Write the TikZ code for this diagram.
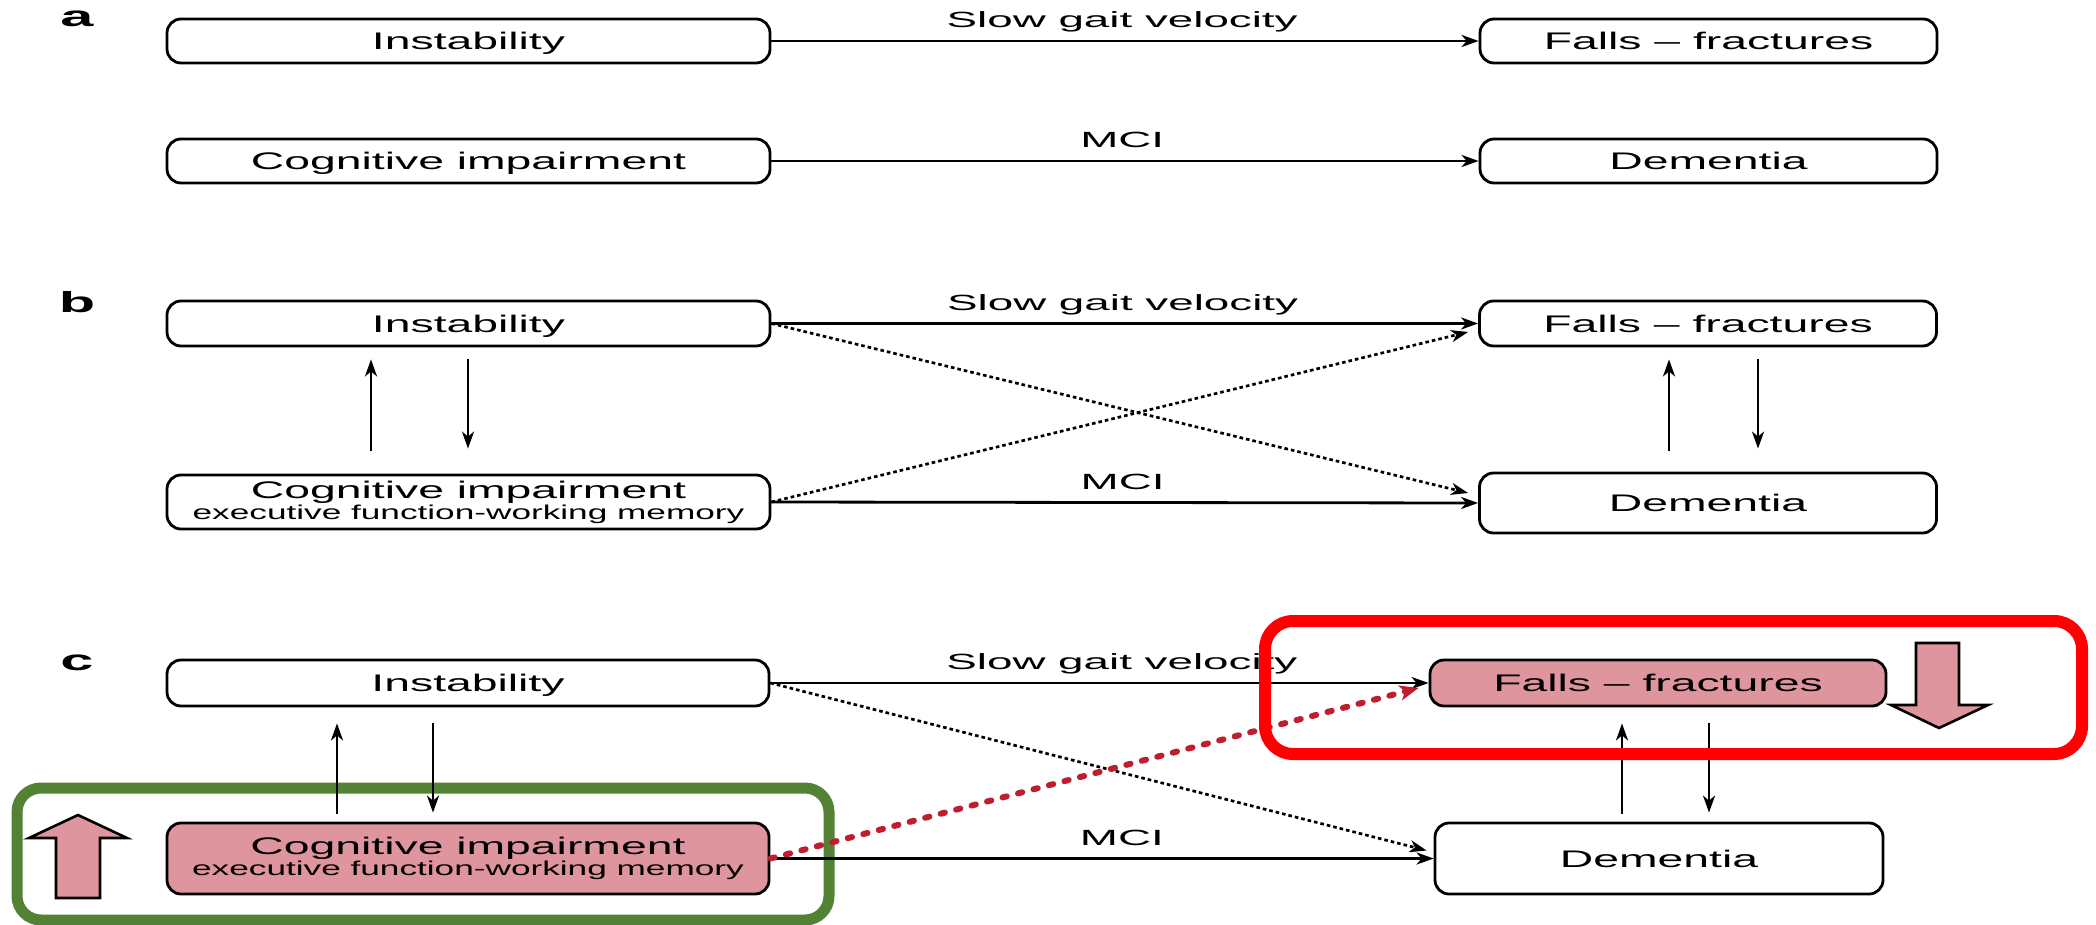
\documentclass[tikz,border=0pt]{standalone}
\usepackage{fontspec}
\setmainfont{Liberation Sans}
\usetikzlibrary{arrows.meta,calc}
\definecolor{pinkfill}{RGB}{223,149,157}
\definecolor{grn}{RGB}{84,130,53}
\definecolor{rdot}{RGB}{190,30,45}
\newcommand{\bxt}[1]{\scalebox{1.93}[1]{\fontsize{12}{14}\selectfont #1}}
\newcommand{\lbt}[1]{\scalebox{2.08}[1]{\fontsize{11}{13}\selectfont #1}}
\newcommand{\smt}[1]{\scalebox{1.76}[1]{\fontsize{10}{12}\selectfont #1}}
\newcommand{\plt}[1]{\scalebox{2.05}[1]{\fontsize{14.5}{16}\selectfont\bfseries #1}}
\tikzset{
  box/.style={draw, line width=1.4pt, rounded corners=7pt, inner sep=0pt,
    text height=8.6pt, text depth=0pt},
  wbox/.style={box, minimum width=301.5pt},
  nbox/.style={box, minimum width=228.5pt},
  twobox/.style={draw, line width=1.4pt, rounded corners=7pt, inner sep=0pt,
    align=center, font=\fontsize{10}{10.5}\selectfont, minimum width=301.5pt},
  arr/.style={line width=1.4pt, -{Stealth[length=8.5pt,width=6pt,inset=2.5pt]}},
  varr/.style={line width=1.25pt, -{Stealth[length=8.5pt,width=6pt,inset=2.5pt]}},
  dots/.style={line width=1.35pt, dash pattern=on 1.8pt off 1.5pt,
    -{Stealth[length=8.5pt,width=6pt,inset=2.5pt]}},
  rdots/.style={rdot, line width=3pt, dash pattern=on 2.2pt off 5.8pt, line cap=round,
    -{Stealth[length=9.5pt,width=7.5pt,inset=2.5pt]}},
  lab/.style={above=6pt, inner sep=0pt, text depth=0pt},
  bigarr/.style={fill=pinkfill, draw=black, line width=1.3pt},
  pl/.style={anchor=base, inner sep=0pt}
}
\begin{document}
\begin{tikzpicture}[x=0.5pt,y=-0.5pt]
\useasboundingbox (0,0) rectangle (2096,925);
% green frame (behind)
\draw[grn, line width=5.5pt, rounded corners=12pt] (17,788) rectangle (829,920);

% panel letters
\node[pl] (la) at (77,27) {\plt{a}};
\node[pl] (lb) at (77,312) {\plt{b}};
\node[pl] (lc) at (77,670) {\plt{c}};

% panel a
\node[wbox, minimum height=22pt] (a1) at (468.5,41) {\bxt{Instability}};
\node[nbox, minimum height=22pt] (a2) at (1708.5,41) {\bxt{Falls -- fractures}};
\node[wbox, minimum height=22pt] (a3) at (468.5,161) {\bxt{Cognitive impairment}};
\node[nbox, minimum height=22pt] (a4) at (1708.5,161) {\bxt{Dementia}};
\draw[arr] (a1.east) -- node[lab, pos=0.496] {\lbt{Slow gait velocity}} (a2.west);
\draw[arr] (a3.east) -- node[lab, pos=0.496] {\lbt{MCI}} (a4.west);

% panel b
\node[wbox, minimum height=22.5pt] (b1) at (468.5,323.5) {\bxt{Instability}};
\node[nbox, minimum height=22.5pt] (b2) at (1708,323.5) {\bxt{Falls -- fractures}};
\node[twobox, minimum height=27pt] (b3) at (468.5,502) {\bxt{Cognitive impairment}\\\smt{executive function-working memory}};
\node[nbox, minimum height=30pt] (b4) at (1708,503) {\bxt{Dementia}};
\draw[arr] (b1.east) -- node[lab, pos=0.497] {\lbt{Slow gait velocity}} (b2.west);
\draw[arr] (b3.east) -- node[lab, pos=0.497] {\lbt{MCI}} (b4.west);
\coordinate (b4in) at ($(b4.west)+(-10,-10)$);
\coordinate (b2in) at ($(b2.west)+(-10,8.5)$);
\draw[dots] (b1.east) -- (b4in);
\draw[dots] (b3.east) -- (b2in);
\draw[varr] ($(b3.north)+(-97.5,-23)$) -- ($(b1.south)+(-97.5,12)$);
\draw[varr] ($(b1.south)+(-0.5,12)$) -- ($(b3.north)+(-0.5,-25)$);
\draw[varr] ($(b4.north)+(-39,-21)$) -- ($(b2.south)+(-39,12)$);
\draw[varr] ($(b2.south)+(50,12)$) -- ($(b4.north)+(50,-23)$);

% panel c
\node[box, minimum width=301pt, minimum height=23pt] (c1) at (468,683) {\bxt{Instability}};
\node[box, fill=pinkfill, minimum width=228pt, minimum height=23pt] (c2) at (1658,683) {\bxt{Falls -- fractures}};
\node[twobox, fill=pinkfill, minimum width=301pt, minimum height=35.5pt] (c3) at (468,858.5) {\bxt{Cognitive impairment}\\\smt{executive function-working memory}};
\node[box, minimum width=224pt, minimum height=35.5pt] (c4) at (1659,858.5) {\bxt{Dementia}};
\draw[arr] (c1.east) -- node[lab, pos=0.534] {\lbt{Slow gait velocity}} (c2.west);
\draw[arr] (c3.east) -- node[lab, pos=0.53] {\lbt{MCI}} (c4.west);
\coordinate (c4in) at ($(c4.west)+(-7,-8)$);
\coordinate (c2in) at ($(c2.west)+(-10,5)$);
\draw[dots] (c1.east) -- (c4in);
\draw[rdots] (c3.east) -- (c2in);
\draw[varr] ($(c3.north)+(-131,-8)$) -- ($(c1.south)+(-131,16)$);
\draw[varr] ($(c1.south)+(-35,16)$) -- ($(c3.north)+(-35,-9)$);
\draw[varr] ($(c4.north)+(-37,-8)$) -- ($(c2.south)+(-36,16)$);
\draw[varr] ($(c2.south)+(51,16)$) -- ($(c4.north)+(50,-9)$);

% big arrows
\draw[bigarr] (56,898) -- (56,838) -- (29,838) -- (78,815) -- (127,838) -- (100,838) -- (100,898) -- cycle;
\draw[bigarr] (1916,643) -- (1959,643) -- (1959,705) -- (1988,705) -- (1939,728) -- (1891,705) -- (1916,705) -- cycle;

% red frame (front)
\draw[red, line width=6pt, rounded corners=14pt] (1265,621) rectangle (2082,754);
\end{tikzpicture}
\end{document}
